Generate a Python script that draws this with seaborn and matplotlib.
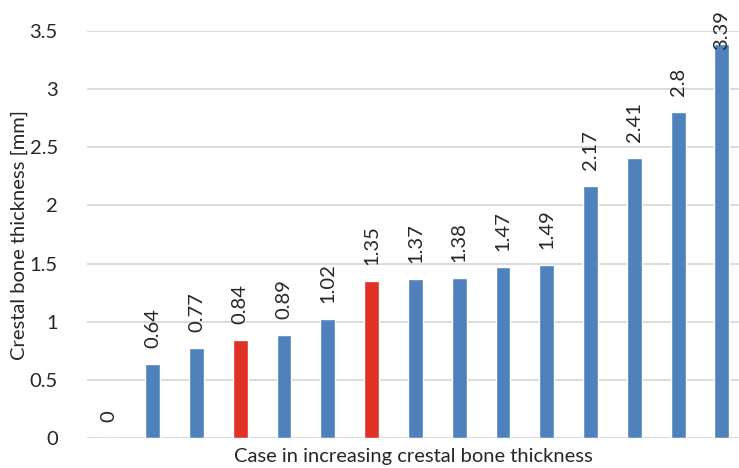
import matplotlib
matplotlib.use("Agg")
import matplotlib.pyplot as plt
import seaborn as sns
import pandas as pd
import numpy as np

# Crestal bone thickness per case, sorted ascending
cases = [f"C{i + 1}" for i in range(15)]
thickness = [0, 0.64, 0.77, 0.84, 0.89, 1.02, 1.35, 1.37, 1.38, 1.47, 1.49, 2.17, 2.41, 2.8, 3.39]
highlighted = ["C4", "C7"]

BLUE = "#4F81BD"
RED = "#E03127"
GRID = "#D9D9D9"
TEXT = "#262626"
FS = 14.5

sns.set_theme(style="white")
plt.rcParams["font.family"] = ["Lato", "DejaVu Sans"]

df = pd.DataFrame({"case": cases, "thickness": thickness})
colors = {c: (RED if c in highlighted else BLUE) for c in cases}

fig = plt.figure(figsize=(7.39, 4.68), dpi=100)
ax = fig.add_axes([87 / 739, 1 - 438 / 468, (739 - 87) / 739, (438 - 31) / 468])

sns.barplot(data=df, x="case", y="thickness", hue="case", palette=colors,
            width=0.34, legend=False, ax=ax, zorder=3, saturation=1)

ax.set_ylim(0, 3.5)
ax.set_xlim(-0.5, 14.39)
ax.set_yticks(np.arange(0, 3.51, 0.5))
ax.set_yticklabels(["0", "0.5", "1", "1.5", "2", "2.5", "3", "3.5"], fontsize=FS, color=TEXT)
ax.set_xticks([])
ax.yaxis.grid(True, color=GRID, linewidth=1.3, zorder=0)
ax.tick_params(axis="y", length=0, pad=21)
for s in ax.spines.values():
    s.set_visible(False)

ax.set_ylabel("Crestal bone thickness [mm]", fontsize=FS, color=TEXT, labelpad=1)
ax.set_xlabel("Case in increasing crestal bone thickness", fontsize=FS, color=TEXT, labelpad=7)

# value labels above each bar, kept inside the figure
fig.canvas.draw()
inv = ax.transData.inverted()
for i, v in enumerate(thickness):
    x_pix, y_pix = ax.transData.transform((i, v))
    label = f"{v:g}"
    height_px = 10 * len(label)
    bottom_px = y_pix + 16
    top_limit = fig.bbox.height - 10
    if bottom_px + height_px > top_limit:
        bottom_px = top_limit - height_px
    _, y_data = inv.transform((x_pix, bottom_px))
    ax.text(i, y_data, label, rotation=90, ha="center", va="bottom",
            fontsize=FS, color=TEXT, clip_on=False, zorder=4)

fig.savefig("out.png", dpi=100)
